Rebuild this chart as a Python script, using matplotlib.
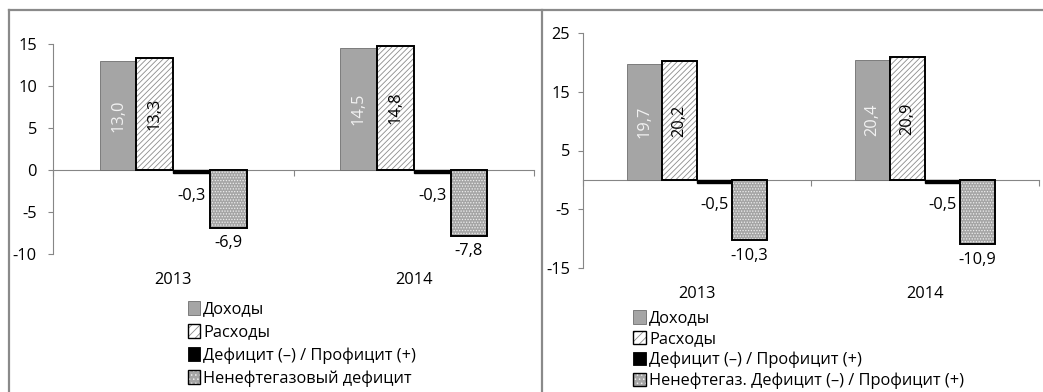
import matplotlib
matplotlib.use("Agg")
import matplotlib.pyplot as plt
from matplotlib.patches import Patch
from matplotlib.lines import Line2D
from matplotlib.legend_handler import HandlerTuple
import numpy as np

plt.rcParams['font.family'] = ['Open Sans', 'DejaVu Sans']
plt.rcParams['axes.unicode_minus'] = False
plt.rcParams['hatch.linewidth'] = 0.6

# ---- data -------------------------------------------------------------
years = ["2013", "2014"]

left_series = ["Доходы", "Расходы", "Дефицит (–) / Профицит (+)",
               "Ненефтегазовый дефицит"]
left_income = [13.0, 14.5]
left_spending = [13.3, 14.8]
left_balance = [-0.3, -0.3]
left_nonoil = [-6.9, -7.8]

right_series = ["Доходы", "Расходы", "Дефицит (–) / Профицит (+)",
                "Ненефтегаз. Дефицит (–) / Профицит (+)"]
right_income = [19.7, 20.4]
right_spending = [20.2, 20.9]
right_balance = [-0.5, -0.5]
right_nonoil = [-10.3, -10.9]

left_yticks = [-10, -5, 0, 5, 10, 15]
right_yticks = [-15, -5, 5, 15, 25]

# ---- style ------------------------------------------------------------
FS = 11.8
AXIS_GREY = "#868686"
BAR_GREY = "#a5a5a5"
W = 0.153


def fmt(v):
    return f"{v:.1f}".replace(".", ",")


def draw_panel(ax, income, spending, balance, nonoil, ylim, yticks,
               below_offsets, ypad):
    x = np.arange(len(years))
    pos = [x + (k - 1.5) * W for k in range(4)]

    # Доходы
    b_inc = ax.bar(pos[0], income, W, color=BAR_GREY, edgecolor="#6e6e6e",
                   linewidth=0.6, zorder=2)
    # Расходы: hatch layer + black outline
    ax.bar(pos[1], spending, W, color="white", edgecolor="#8c8c8c",
           hatch="//////", linewidth=0, zorder=2)
    b_sp = ax.bar(pos[1], spending, W, color="none", edgecolor="black",
                  linewidth=1.4, zorder=3)
    # Дефицит
    b_bal = ax.bar(pos[2], balance, W, color="black", edgecolor="black",
                   linewidth=1.0, zorder=2)
    # Ненефтегазовый: dotted layer + black outline
    ax.bar(pos[3], nonoil, W, color=BAR_GREY, edgecolor="#eeeeee",
           hatch="......", linewidth=0, zorder=2)
    b_no = ax.bar(pos[3], nonoil, W, color="none", edgecolor="black",
                  linewidth=1.4, zorder=3)

    # value labels
    for bar, v in zip(b_inc, income):
        ax.text(bar.get_x() + bar.get_width() / 2, v / 2, fmt(v),
                rotation=90, ha="center", va="center", color="#f2f2f2",
                fontsize=FS, zorder=5)
    for bar, v in zip(b_sp, spending):
        ax.text(bar.get_x() + bar.get_width() / 2, v / 2, fmt(v),
                rotation=90, ha="center", va="center", color="black",
                fontsize=FS, zorder=5)
    for bars, vals, off in ((b_bal, balance, below_offsets[0]),
                            (b_no, nonoil, below_offsets[1])):
        for bar, v in zip(bars, vals):
            ax.annotate(fmt(v), (bar.get_x() + bar.get_width() / 2, v),
                        xytext=(0, -off), textcoords="offset points",
                        ha="center", va="center", fontsize=FS, zorder=5)

    # axes
    ax.set_xlim(-0.5, len(years) - 0.5)
    ax.set_ylim(*ylim)
    ax.set_yticks(yticks)
    ax.set_yticklabels([str(t) for t in yticks])
    ax.set_xticks(np.arange(len(years) + 1) - 0.5)
    ax.set_xticklabels([])
    for s in ("top", "right"):
        ax.spines[s].set_visible(False)
    ax.spines["bottom"].set_position(("data", 0))
    for s in ("left", "bottom"):
        ax.spines[s].set_color(AXIS_GREY)
        ax.spines[s].set_linewidth(0.8)
        ax.spines[s].set_zorder(1)
    ax.tick_params(axis="y", direction="out", length=3.6, width=0.8,
                   color=AXIS_GREY, labelsize=FS, pad=ypad)
    ax.tick_params(axis="x", direction="out", length=4.5, width=0.8,
                   color=AXIS_GREY)
    ax.patch.set_visible(False)

    for i, y in enumerate(years):
        ax.annotate(y, (i, 0), xycoords=ax.get_xaxis_transform(),
                    xytext=(0, -19), textcoords="offset points",
                    ha="center", va="center", fontsize=FS)
    return b_inc


def legend_handles():
    return [
        Patch(facecolor=BAR_GREY, edgecolor="#6e6e6e", linewidth=0.6),
        (Patch(facecolor="white", edgecolor="#8c8c8c", hatch="////",
               linewidth=0),
         Patch(facecolor="none", edgecolor="black", linewidth=1.0)),
        Patch(facecolor="black", edgecolor="black", linewidth=0.6),
        (Patch(facecolor=BAR_GREY, edgecolor="#eeeeee", hatch="....",
               linewidth=0),
         Patch(facecolor="none", edgecolor="black", linewidth=1.0)),
    ]


fig = plt.figure(figsize=(10.43, 3.92), dpi=100)
FW, FH = 1043, 392

# chart area frames
frame = dict(color="#8a8a8a", linewidth=1.6)
fig.add_artist(Line2D([9 / FW, 9 / FW], [0, 1 - 10 / FH], **frame))
fig.add_artist(Line2D([9 / FW, 1], [1 - 10 / FH, 1 - 10 / FH], **frame))
fig.add_artist(Line2D([541.5 / FW, 541.5 / FW], [0, 1 - 10 / FH], **frame))

ax1 = fig.add_axes([53 / FW, 1 - 254 / FH, 481 / FW, 210 / FH])
draw_panel(ax1, left_income, left_spending, left_balance, left_nonoil,
           (-10, 15), left_yticks, (17, 11), 8)

ax2 = fig.add_axes([583 / FW, 1 - 268 / FH, 456 / FW, 235 / FH])
draw_panel(ax2, right_income, right_spending, right_balance, right_nonoil,
           (-15, 25), right_yticks, (16, 11.5), 5.5)

overlay = {tuple: HandlerTuple(ndivide=1, pad=0)}

fig.legend(legend_handles(), left_series, loc="upper left",
           bbox_to_anchor=(188 / FW, 1 - 301 / FH), frameon=False,
           fontsize=FS, handlelength=0.72, handleheight=0.9,
           handletextpad=0.2, labelspacing=0.4, borderpad=0,
           borderaxespad=0, handler_map=overlay)

fig.legend(legend_handles(), right_series, loc="upper left",
           bbox_to_anchor=(633 / FW, 1 - 310 / FH), frameon=False,
           fontsize=FS, handlelength=0.82, handleheight=0.9,
           handletextpad=0.15, labelspacing=0.27, borderpad=0,
           borderaxespad=0, handler_map=overlay)

fig.savefig("out.png", dpi=100, facecolor="white")
